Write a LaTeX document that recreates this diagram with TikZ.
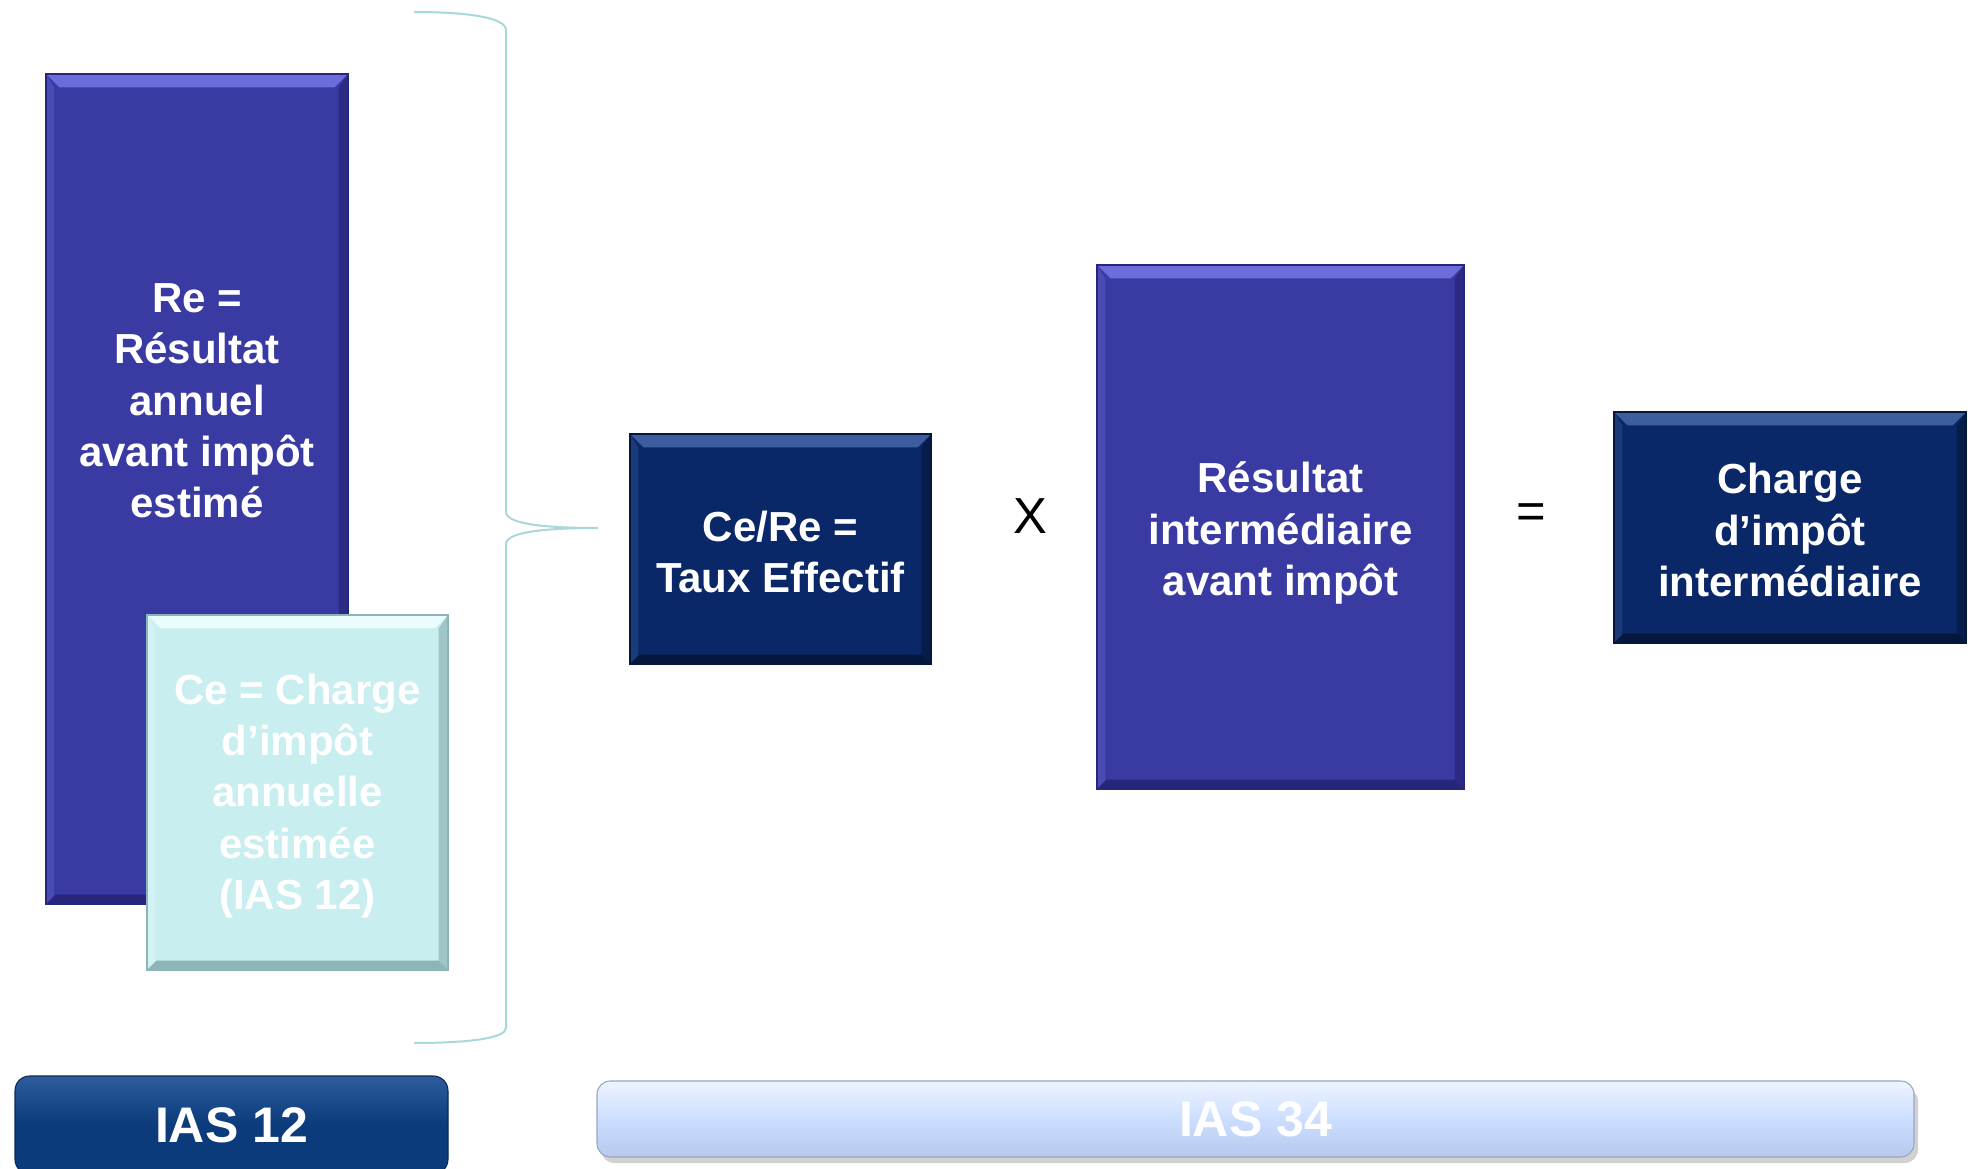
\documentclass[tikz,border=0pt]{standalone}
\usepackage{fontspec}
\setmainfont{Liberation Sans}
\usetikzlibrary{calc}
\definecolor{reblue}{HTML}{3A3AA3}
\definecolor{relight}{HTML}{6C6CDA}
\definecolor{redark}{HTML}{26267A}
\definecolor{cecyan}{HTML}{C8EEF0}
\definecolor{celight}{HTML}{EAFCFD}
\definecolor{cedark}{HTML}{8DB4B6}
\definecolor{navy}{HTML}{0A2868}
\definecolor{navylight}{HTML}{3D5E9E}
\definecolor{navydark}{HTML}{05173C}
\definecolor{iasdark}{HTML}{0B3B7B}
\definecolor{iasdarktop}{HTML}{2D5C9C}
\definecolor{iaslight}{HTML}{CCDEFF}
\definecolor{iaslighttop}{HTML}{EEF4FF}
\definecolor{iaslightbot}{HTML}{B6C9EE}
\definecolor{iaslightedge}{HTML}{9AA6BE}
\definecolor{bracecol}{HTML}{A8D8DA}
\tikzset{
  bevel/.style n args={2}{path picture={
    \def\pb{path picture bounding box}
    \fill[#1] (\pb.north west) -- (\pb.north east) -- ([xshift=-10pt,yshift=-10pt]\pb.north east) -- ([xshift=10pt,yshift=-10pt]\pb.north west) -- cycle;
    \fill[#1,opacity=0.35] (\pb.north west) -- ([xshift=6pt,yshift=-10pt]\pb.north west) -- ([xshift=6pt,yshift=6pt]\pb.south west) -- (\pb.south west) -- cycle;
    \fill[#2] (\pb.south west) -- (\pb.south east) -- ([xshift=-7pt,yshift=7pt]\pb.south east) -- ([xshift=7pt,yshift=7pt]\pb.south west) -- cycle;
    \fill[#2,opacity=0.7] (\pb.north east) -- ([xshift=-7pt,yshift=-10pt]\pb.north east) -- ([xshift=-7pt,yshift=7pt]\pb.south east) -- (\pb.south east) -- cycle;
  }},
  boxtext/.style={text=white, font=\bfseries\fontsize{31.5}{38.5}\selectfont, align=center},
  rebox/.style={rectangle, fill=reblue, draw=redark, line width=0.8pt, bevel={relight}{redark}, inner sep=0pt},
  cebox/.style={rectangle, fill=cecyan, draw=cedark, line width=0.8pt, bevel={celight}{cedark}, inner sep=0pt, boxtext},
  navybox/.style={rectangle, fill=navy, draw=navydark, line width=0.8pt, bevel={navylight}{navydark}, inner sep=0pt, boxtext},
  opsign/.style={font=\fontsize{38}{40}\selectfont, text=black, inner sep=0pt},
  barlabel/.style={font=\bfseries\fontsize{37.5}{40}\selectfont, text=white},
}
\begin{document}
\begin{tikzpicture}[x=0.75pt, y=-0.75pt]
\path[use as bounding box, clip] (0,0) rectangle (1968,1169);
\fill[white] (0,0) rectangle (1968,1169);

% brace
\coordinate (btop) at (414,12);
\coordinate (btip) at (598,528);
\coordinate (bbot) at (414,1043);
\draw[bracecol, line width=1.5pt] (btop) .. controls (470,12) and (506,18) .. (506,30)
  -- (506,512) .. controls (506,524) and (545,528) .. (btip)
  .. controls (545,528) and (506,532) .. (506,544)
  -- (506,1028) .. controls (506,1038) and (470,1043) .. (bbot);

% Re box
\node[rebox, minimum width=226.5pt, minimum height=622.5pt] (re) at (197,489) {};
\node[boxtext] (retext) at (197,401) {Re =\\Résultat\\annuel\\avant impôt\\estimé};

% Ce box
\node[cebox, minimum width=225.75pt, minimum height=266.25pt] (ce) at (297.5,792.5) {};
\node[boxtext] (cetext) at (297.5,796) {Ce = Charge\\d’impôt\\annuelle\\estimée\\(IAS 12)};

% Ce/Re box
\node[navybox, minimum width=225.75pt, minimum height=172.5pt] (taux) at (780.5,549) {};
\node[boxtext] (tauxtext) at (780.5,552) {Ce/Re =\\Taux Effectif};

\node[opsign] (times) at (1030,516) {X};

% Resultat intermediaire
\node[rebox, minimum width=275.25pt, minimum height=393pt] (ri) at (1280.5,527) {};
\node[boxtext] (ritext) at (1280.5,533) {Résultat\\intermédiaire\\avant impôt};

\node[opsign] (eq) at (1531,516) {=};

% Charge intermediaire
\node[navybox, minimum width=264pt, minimum height=173.25pt] (ci) at (1790,527.5) {};
\node[boxtext] (citext) at (1790,530) {Charge\\d’impôt\\intermédiaire};

% IAS 12 bar
\node[rectangle, rounded corners=11pt, draw=iasdark!70!black, line width=0.8pt,
  top color=iasdarktop, bottom color=iasdark, middle color=iasdark,
  minimum width=324.75pt, minimum height=73.5pt, barlabel, inner sep=0pt] (ias12) at (231.5,1125) {IAS 12};

% IAS 34 bar shadow and bar
\fill[black!18, rounded corners=10pt] (601,1088) rectangle (1918,1163);
\node[rectangle, rounded corners=10pt, draw=iaslightedge, line width=0.8pt,
  top color=iaslighttop, bottom color=iaslightbot, middle color=iaslight,
  minimum width=987.75pt, minimum height=57pt, barlabel, inner sep=0pt] (ias34) at (1255.5,1119) {IAS 34};
\end{tikzpicture}
\end{document}
